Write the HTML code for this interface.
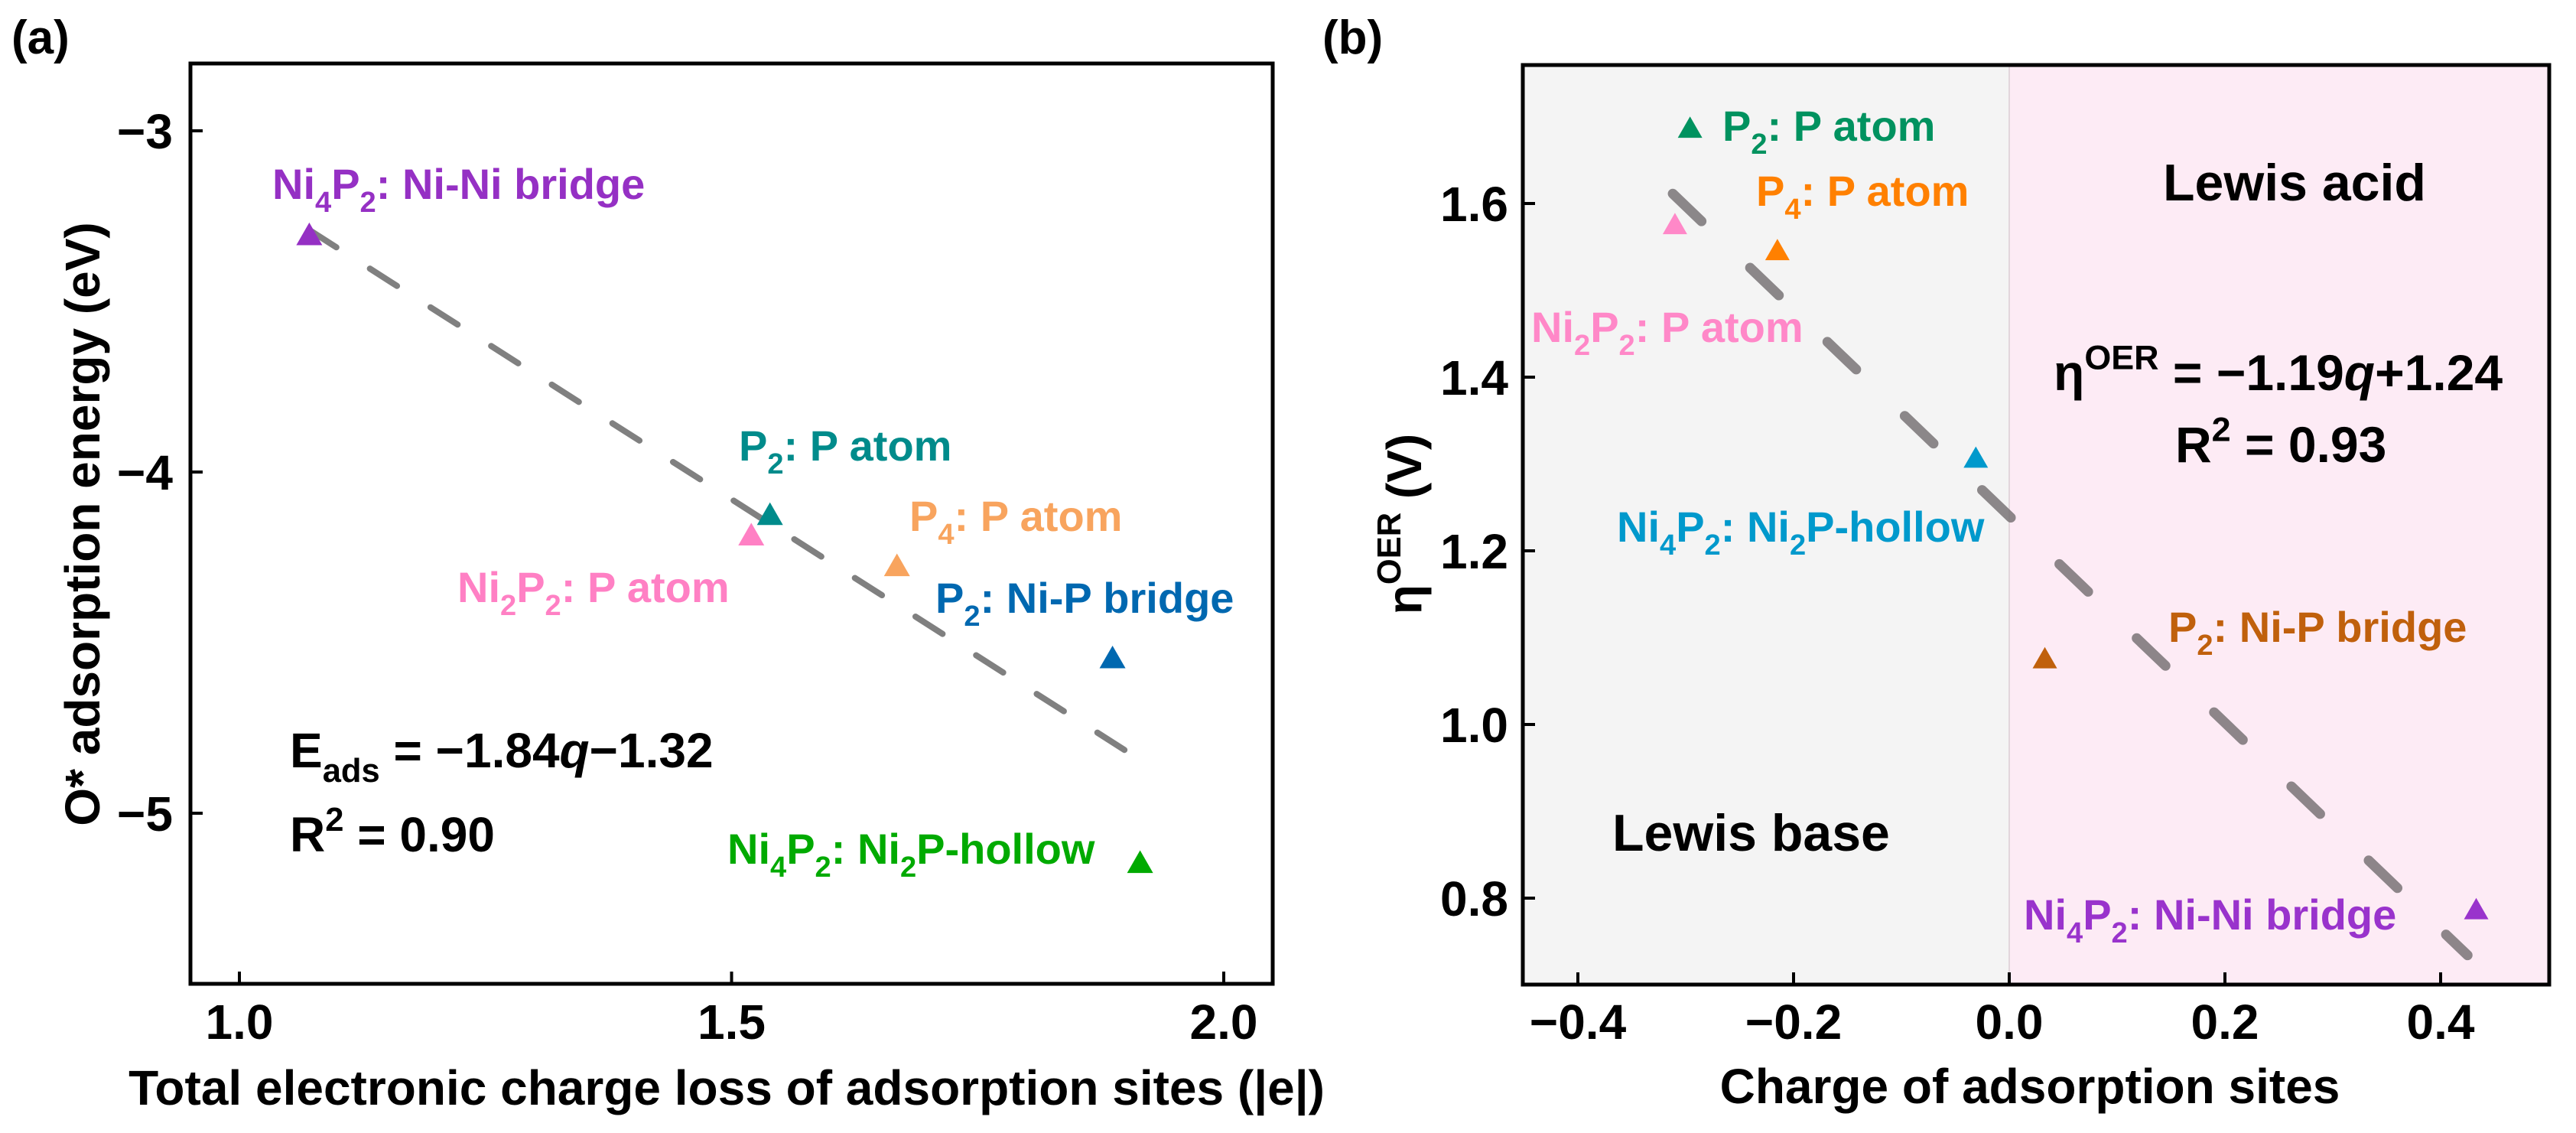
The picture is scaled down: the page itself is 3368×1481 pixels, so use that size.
<!DOCTYPE html>
<html><head><meta charset="utf-8"><style>
html,body{margin:0;padding:0;background:#fff;}
svg{display:block;font-family:"Liberation Sans",Arial,sans-serif;font-weight:bold;}
</style></head><body>
<svg id="fig" width="3368" height="1481" viewBox="0 0 3368 1481" xmlns="http://www.w3.org/2000/svg"></svg>
<script>
// Panel (a) data
const aCharge = [1.071, 1.539, 1.520, 1.668, 1.887, 1.915];
const aEnergy = [-3.31, -4.13, -4.19, -4.28, -4.55, -5.15];
const aColors = ['#9530c4', '#008b8b', '#ff80c4', '#f8a45e', '#0068b0', '#00aa00'];
const aXTicks = [1.0, 1.5, 2.0];
const aXTickLabels = ['1.0', '1.5', '2.0'];
const aYTicks = [-3, -4, -5];
const aYTickLabels = ['\u22123', '\u22124', '\u22125'];
const aFit = [-1.84, -1.32];
// Panel (b) data
const bCharge = [-0.296, -0.310, -0.215, -0.031, 0.033, 0.433];
const bEta = [1.685, 1.574, 1.544, 1.305, 1.074, 0.785];
const bColors = ['#00925f', '#ff88c8', '#ff8000', '#0099cc', '#c0600c', '#9933cc'];
const bXTicks = [-0.4, -0.2, 0.0, 0.2, 0.4];
const bXTickLabels = ['\u22120.4', '\u22120.2', '0.0', '0.2', '0.4'];
const bYTicks = [1.6, 1.4, 1.2, 1.0, 0.8];
const bYTickLabels = ['1.6', '1.4', '1.2', '1.0', '0.8'];
const bFit = [-1.19, 1.24];

const NS = 'http://www.w3.org/2000/svg';
const svg = document.getElementById('fig');
function el(tag, attrs, parent) {
  const e = document.createElementNS(NS, tag);
  for (const k in attrs) e.setAttribute(k, attrs[k]);
  (parent || svg).appendChild(e);
  return e;
}
function rich(parent, x, y, size, color, segs, anchor) {
  const t = el('text', {x: x, y: y, 'font-size': size, fill: color, 'text-anchor': anchor || 'start'}, parent);
  let off = 0;
  segs.forEach(s => {
    const sp = document.createElementNS(NS, 'tspan');
    let target = 0, fs = size;
    if (s[1] === 'sub') { target = size * 0.3; fs = size * 0.68; }
    if (s[1] === 'sup') { target = -size * 0.42; fs = size * 0.68; }
    sp.setAttribute('dy', target - off);
    sp.setAttribute('font-size', fs);
    if (s[1] === 'it') sp.setAttribute('font-style', 'italic');
    off = target;
    sp.textContent = s[0];
    t.appendChild(sp);
  });
  return t;
}

// ---------- Panel A ----------
const ax = {l: 249, r: 1664, t: 83, b: 1286, x0: 1.0, px0: 313, x1: 2.0, px1: 1600, y0: -3, py0: 171, y1: -5, py1: 1063};
const axX = v => ax.px0 + (v - ax.x0) * (ax.px1 - ax.px0) / (ax.x1 - ax.x0);
const axY = v => ax.py0 + (v - ax.y0) * (ax.py1 - ax.py0) / (ax.y1 - ax.y0);
const gA = el('g', {});


const pa = el('text', {x: 15, y: 70, 'font-size': 62, fill: '#000'}, gA);
pa.textContent = '(a)';



const qa0 = Math.min(...aCharge), qa1 = Math.max(...aCharge);
const fa = el('line', {x1: axX(qa0), y1: axY(aFit[0]*qa0+aFit[1]), x2: axX(qa1), y2: axY(aFit[0]*qa1+aFit[1]), stroke: '#808080', 'stroke-width': 8, 'stroke-dasharray': '42 52', 'stroke-linecap': 'round'}, gA);



function tri(g, cx, cy, col, size) {
  const h = size * 0.87;
  return el('polygon', {points: `${cx},${cy - h*0.62} ${cx - size/2},${cy + h*0.38} ${cx + size/2},${cy + h*0.38}`, fill: col}, g);
}
aCharge.forEach((q, i) => {
  const p = tri(gA, axX(q), axY(aEnergy[i]), aColors[i], 34);
  
  
});
const aLabels = [
  [356, 260, [['Ni',''],['4','sub'],['P',''],['2','sub'],[': Ni-Ni bridge','']]],
  [966, 602, [['P',''],['2','sub'],[': P atom','']]],
  [598, 787, [['Ni',''],['2','sub'],['P',''],['2','sub'],[': P atom','']]],
  [1189, 694, [['P',''],['4','sub'],[': P atom','']]],
  [1223, 801, [['P',''],['2','sub'],[': Ni-P bridge','']]],
  [951, 1129, [['Ni',''],['4','sub'],['P',''],['2','sub'],[': Ni',''],['2','sub'],['P-hollow','']]]
];
aLabels.forEach((L, i) => {
  const t = rich(gA, L[0], L[1], 56, aColors[i], L[2]);
  
  
});
const eqa = rich(gA, 379, 1003, 64, '#000', [['E',''],['ads','sub'],[' = \u22121.84',''],['q','it'],['\u22121.32','']]);


const r2a = rich(gA, 379, 1113, 64, '#000', [['R',''],['2','sup'],[' = 0.90','']]);



const frA = el('rect', {x: ax.l, y: ax.t, width: ax.r - ax.l, height: ax.b - ax.t, fill: 'none', stroke: '#000', 'stroke-width': 5}, gA);


aXTicks.forEach((v, i) => {
  const tk = el('line', {x1: axX(v), x2: axX(v), y1: ax.b, y2: ax.b - 16, stroke: '#000', 'stroke-width': 4}, gA);
  
  
  const tl = el('text', {x: axX(v), y: 1358, 'font-size': 64, 'text-anchor': 'middle'}, gA);
  tl.textContent = aXTickLabels[i];
  
  
});
aYTicks.forEach((v, i) => {
  const tk = el('line', {x1: ax.l, x2: ax.l + 16, y1: axY(v), y2: axY(v), stroke: '#000', 'stroke-width': 4}, gA);
  
  
  const tl = el('text', {x: 226, y: axY(v) + 23, 'font-size': 64, 'text-anchor': 'end'}, gA);
  tl.textContent = aYTickLabels[i];
  
  
});
const xta = el('text', {x: 950, y: 1444, 'font-size': 64, 'text-anchor': 'middle'}, gA);
xta.textContent = 'Total electronic charge loss of adsorption sites (|e|)';


const yta = el('text', {x: 0, y: 0, 'font-size': 64, 'text-anchor': 'middle', transform: 'translate(130,685) rotate(-90)'}, gA);
yta.textContent = 'O* adsorption energy (eV)';



// ---------- Panel B ----------
const bx = {l: 1991, r: 3333, t: 85, b: 1287, x0: 0.0, px0: 2627, x1: 0.4, px1: 3191, y0: 1.6, py0: 266, y1: 0.8, py1: 1174};
const bxX = v => bx.px0 + (v - bx.x0) * (bx.px1 - bx.px0) / (bx.x1 - bx.x0);
const bxY = v => bx.py0 + (v - bx.y0) * (bx.py1 - bx.py0) / (bx.y1 - bx.y0);
const gB = el('g', {});


const pb = el('text', {x: 1729, y: 70, 'font-size': 62, fill: '#000'}, gB);
pb.textContent = '(b)';


const baseReg = el('rect', {x: bx.l, y: bx.t, width: bxX(0) - bx.l, height: bx.b - bx.t, fill: '#f4f4f4'}, gB);


const acidReg = el('rect', {x: bxX(0), y: bx.t, width: bx.r - bxX(0), height: bx.b - bx.t, fill: '#fdebf5'}, gB);


const div = el('line', {x1: bxX(0), x2: bxX(0), y1: bx.t, y2: bx.b, stroke: '#e2d6dc', 'stroke-width': 2}, gB);



const qb0 = Math.min(...bCharge) - 0.002, qb1 = Math.max(...bCharge) - 0.008;
const fb = el('line', {x1: bxX(qb0), y1: bxY(bFit[0]*qb0+bFit[1]), x2: bxX(qb1), y2: bxY(bFit[0]*qb1+bFit[1]), stroke: 'rgba(112,108,110,0.8)', 'stroke-width': 13, 'stroke-dasharray': '52 88', 'stroke-linecap': 'round'}, gB);



bCharge.forEach((q, i) => {
  const p = tri(gB, bxX(q), bxY(bEta[i]), bColors[i], 32);
  
  
});
const bLabels = [
  [2252, 184, [['P',''],['2','sub'],[': P atom','']]],
  [2002, 447, [['Ni',''],['2','sub'],['P',''],['2','sub'],[': P atom','']]],
  [2296, 269, [['P',''],['4','sub'],[': P atom','']]],
  [2114, 708, [['Ni',''],['4','sub'],['P',''],['2','sub'],[': Ni',''],['2','sub'],['P-hollow','']]],
  [2835, 839, [['P',''],['2','sub'],[': Ni-P bridge','']]],
  [2646, 1215, [['Ni',''],['4','sub'],['P',''],['2','sub'],[': Ni-Ni bridge','']]]
];
bLabels.forEach((L, i) => {
  const t = rich(gB, L[0], L[1], 56, bColors[i], L[2]);
  
  
});
const la = el('text', {x: 2828, y: 262, 'font-size': 68}, gB);
la.textContent = 'Lewis acid';


const lb = el('text', {x: 2108, y: 1112, 'font-size': 68}, gB);
lb.textContent = 'Lewis base';


const eqb = rich(gB, 2685, 510, 66, '#000', [['\u03b7',''],['OER','sup'],[' = \u22121.19',''],['q','it'],['+1.24','']]);


const r2b = rich(gB, 2844, 604, 66, '#000', [['R',''],['2','sup'],[' = 0.93','']]);



const frB = el('rect', {x: bx.l, y: bx.t, width: bx.r - bx.l, height: bx.b - bx.t, fill: 'none', stroke: '#000', 'stroke-width': 5}, gB);


bXTicks.forEach((v, i) => {
  const tk = el('line', {x1: bxX(v), x2: bxX(v), y1: bx.b, y2: bx.b - 16, stroke: '#000', 'stroke-width': 4}, gB);
  
  
  const tl = el('text', {x: bxX(v), y: 1358, 'font-size': 64, 'text-anchor': 'middle'}, gB);
  tl.textContent = bXTickLabels[i];
  
  
});
bYTicks.forEach((v, i) => {
  const tk = el('line', {x1: bx.l, x2: bx.l + 16, y1: bxY(v), y2: bxY(v), stroke: '#000', 'stroke-width': 4}, gB);
  
  
  const tl = el('text', {x: 1972, y: bxY(v) + 23, 'font-size': 64, 'text-anchor': 'end'}, gB);
  tl.textContent = bYTickLabels[i];
  
  
});
const xtb = el('text', {x: 2654, y: 1442, 'font-size': 64, 'text-anchor': 'middle'}, gB);
xtb.textContent = 'Charge of adsorption sites';


const ytbG = el('g', {transform: 'translate(1858,685) rotate(-90)'}, gB);
const ytb = rich(ytbG, 0, 0, 64, '#000', [['\u03b7',''],['OER','sup'],[' (V)','']], 'middle');


</script>
</body></html>
